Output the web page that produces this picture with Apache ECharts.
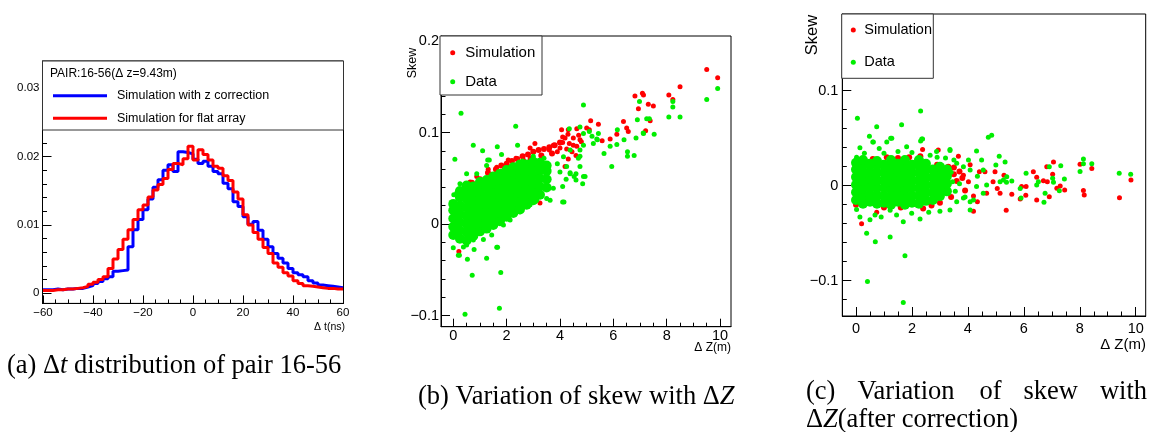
<!DOCTYPE html>
<html>
<head>
<meta charset="utf-8">
<script src="https://cdn.jsdelivr.net/npm/echarts@6.0.0/dist/echarts.min.js"></script>
<style>
  html, body { margin: 0; padding: 0; background: #fff; }
  #main { width: 1153px; height: 432px; }
</style>
</head>
<body>
<div id="main"></div>
<script>
var FONT = '"Liberation Sans", Arial, sans-serif';
var SERIF = '"Liberation Serif", "Times New Roman", serif';

// ---- panel (a): delta t histograms, 2 ns bins, left edges ----
var binEdges = [-60,-58,-56,-54,-52,-50,-48,-46,-44,-42,-40,-38,-36,-34,-32,-30,-28,-26,-24,-22,
  -20,-18,-16,-14,-12,-10,-8,-6,-4,-2,0,2,4,6,8,10,12,14,16,18,
  20,22,24,26,28,30,32,34,36,38,40,42,44,46,48,50,52,54,56,58];
var histEnd = 60;
var simZCorr = [0.0005,0.0005,0.0006,0.0005,0.0006,0.0006,0.0007,0.0007,0.0009,0.0011,
  0.0014,0.0017,0.0021,0.0024,0.0032,0.0033,0.0034,0.0068,0.0093,0.0108,
  0.0122,0.0138,0.0155,0.0166,0.0180,0.0188,0.0178,0.0207,0.0206,0.0204,
  0.0196,0.0190,0.0193,0.0186,0.0178,0.0175,0.0161,0.0153,0.0134,0.0127,
  0.0112,0.0101,0.0105,0.0092,0.0079,0.0068,0.0058,0.0051,0.0044,0.0036,
  0.0030,0.0027,0.0024,0.0018,0.0015,0.0012,0.0011,0.0010,0.0009,0.0008];
var simFlat = [0.0004,0.0004,0.0005,0.0005,0.0006,0.0006,0.0007,0.0008,0.0010,0.0013,
  0.0016,0.0020,0.0024,0.0036,0.0050,0.0064,0.0079,0.0093,0.0108,0.0122,
  0.0129,0.0141,0.0151,0.0159,0.0168,0.0181,0.0190,0.0188,0.0197,0.0215,
  0.0195,0.0210,0.0203,0.0195,0.0186,0.0183,0.0172,0.0165,0.0148,0.0138,
  0.0115,0.0100,0.0089,0.0079,0.0067,0.0058,0.0044,0.0038,0.0030,0.0025,
  0.0018,0.0014,0.0011,0.0010,0.0009,0.0008,0.0007,0.0007,0.0006,0.0006];

var aXMajor = [-60,-40,-20,0,20,40,60];
var aXMinor = [-60,-55,-50,-45,-40,-35,-30,-25,-20,-15,-10,-5,0,5,10,15,20,25,30,35,40,45,50,55,60];
var aYMajor = [0,0.01,0.02,0.03];
var aYMinor = [0,0.002,0.004,0.006,0.008,0.01,0.012,0.014,0.016,0.018,0.02,0.022,0.024,0.026,0.028,0.03,0.032];

// ---- panel (b): skew vs delta Z ----
// dense middle of the clouds
var simCoreB = [[0.0,-0.012],[0.0,0.005],[0.05,0.02],[0.7,0.045],[1.0,0.049],[1.3,0.056],[1.6,0.060],
  [1.8,0.064],[2.0,0.066],[2.2,0.069],[2.4,0.071],[2.6,0.074],[2.8,0.076],[3.0,0.079],[3.2,0.081],
  [3.4,0.082],[3.6,0.084],[3.8,0.086],[4.0,0.089],[3.3,0.075],[3.7,0.077],[2.9,0.071]];
var dataCoreB = [
  [0,-0.012],[0,-0.003],[0,0.006],[0,0.015],[0,0.022],
  [0.25,-0.016],[0.25,-0.007],[0.25,0.002],[0.25,0.011],[0.25,0.020],[0.25,0.029],[0.25,0.036],
  [0.5,-0.018],[0.5,-0.009],[0.5,0.0],[0.5,0.009],[0.5,0.018],[0.5,0.027],[0.5,0.036],[0.5,0.042],
  [0.75,-0.013],[0.75,-0.004],[0.75,0.005],[0.75,0.014],[0.75,0.023],[0.75,0.032],[0.75,0.041],
  [1.0,-0.008],[1.0,0.001],[1.0,0.010],[1.0,0.019],[1.0,0.028],[1.0,0.037],[1.0,0.046],
  [1.25,-0.005],[1.25,0.004],[1.25,0.013],[1.25,0.022],[1.25,0.031],[1.25,0.040],[1.25,0.048],
  [1.5,-0.001],[1.5,0.008],[1.5,0.017],[1.5,0.026],[1.5,0.035],[1.5,0.044],[1.5,0.052],
  [1.75,0.003],[1.75,0.012],[1.75,0.021],[1.75,0.030],[1.75,0.039],[1.75,0.048],[1.75,0.055],
  [2.0,0.008],[2.0,0.017],[2.0,0.026],[2.0,0.035],[2.0,0.044],[2.0,0.053],[2.0,0.059],
  [2.25,0.012],[2.25,0.021],[2.25,0.030],[2.25,0.039],[2.25,0.048],[2.25,0.057],[2.25,0.062],
  [2.5,0.016],[2.5,0.025],[2.5,0.034],[2.5,0.043],[2.5,0.052],[2.5,0.060],[2.5,0.065],
  [2.75,0.021],[2.75,0.030],[2.75,0.039],[2.75,0.048],[2.75,0.057],[2.75,0.065],
  [3.0,0.026],[3.0,0.035],[3.0,0.044],[3.0,0.053],[3.0,0.062],[3.0,0.068],
  [3.25,0.032],[3.25,0.041],[3.25,0.050],[3.25,0.059],[3.25,0.067],
  [3.5,0.040],[3.5,0.049],[3.5,0.058],[3.5,0.064]];
// single points
var simB = [[9.5,0.169],[9.91,0.16],[8.5,0.150],[8.08,0.141],[8.23,0.136],[6.81,0.140],[7.09,0.143],
  [7.13,0.141],[6.94,0.126],[7.31,0.131],[7.5,0.129],[7.38,0.113],[7.21,0.102],[6.5,0.105],[6.56,0.101],
  [6.38,0.112],[6.13,0.098],[5.88,0.093],[5.58,0.091],[5.44,0.109],[5.15,0.113],[5.0,0.105],[5.1,0.103],
  [4.63,0.104],[4.31,0.103],[4.06,0.103],[4.75,0.092],[4.63,0.085],[4.5,0.086],[4.19,0.094],[4.1,0.089],
  [3.75,0.086],[3.06,0.088],[2.88,0.083],[2.63,0.070],[2.35,0.072],[2.06,0.070],[1.63,0.062],[1.31,0.060],
  [0.88,0.052],[0.63,0.046],[0.48,0.042],[4.31,0.071],[4.19,0.063],[3.25,0.023],[0.21,-0.030],[-0.02,0.019],
  [4.1,0.095],[4.3,0.098],[4.5,0.094],[4.7,0.097],[4.45,0.079],[4.6,0.075],[4.25,0.082],[4.8,0.090],
  [4.35,0.088],[4.0,0.083],[3.9,0.079],[3.6,0.081]];
var dataB = [[0.29,0.121],[0.06,0.0707],[0.75,0.086],[1.1,0.080],[1.65,0.0845],[2.34,0.107],[2.41,0.086],
  [1.29,0.070],[4.88,0.130],[4.35,0.104],[4.75,0.106],[5.1,0.101],[5.44,0.099],[5.4,0.092],[5.25,0.088],
  [4.88,0.099],[4.75,0.081],[4.69,0.072],[4.88,0.052],[4.85,0.044],[4.75,0.063],[4.6,0.055],[4.38,0.055],
  [4.1,0.024],[3.63,0.026],[5.88,0.085],[5.65,0.077],[5.94,0.063],[6.13,0.087],[6.15,0.103],[6.4,0.092],
  [6.53,0.079],[6.53,0.074],[6.78,0.075],[6.85,0.094],[6.9,0.114],[6.98,0.134],[7.13,0.099],[7.25,0.115],
  [7.35,0.115],[7.53,0.098],[8.08,0.117],[8.23,0.128],[8.23,0.134],[8.5,0.117],[9.5,0.136],[9.91,0.148],
  [1.63,-0.0255],[1.25,-0.0375],[1.78,-0.053],[0.71,-0.056],[0.53,-0.0386],[0.23,-0.034],[1.73,-0.092],
  [0.44,-0.0987],[1.13,-0.0168],[0.78,-0.0277],
  [1.81,0.076],[1.35,0.070],[1.25,0.064],[0.88,0.055],[0.5,0.055],[0.25,0.044],[0.13,0.034],[3.9,0.066],
  [4.0,0.057],[4.25,0.063],[4.6,0.048],[4.94,0.052],[4.15,0.024],[3.75,0.039],[3.5,0.028],[3.13,0.026],
  [2.88,0.021],[2.5,0.0135],[2.13,0.0044],[1.88,-0.001],[1.44,-0.012],[0.75,-0.0175],[0.5,-0.023],
  [0.19,-0.034],[0.38,-0.025],[1.66,-0.0255],[0.0,-0.026],[0.02,0.032],[3.4,0.072],[3.0,0.074],[2.6,0.069],
  [5.2,0.096],[5.38,0.093],[4.88,0.086],[4.38,0.081],[4.13,0.0736],[4.75,0.074],[4.53,0.052],[4.23,0.049],
  [4.1,0.041],[4.38,0.056],[7.12,0.0995]];

var zXMajor = [0,2,4,6,8,10];
var zXMinor = [0,0.5,1,1.5,2,2.5,3,3.5,4,4.5,5,5.5,6,6.5,7,7.5,8,8.5,9,9.5,10];
var bYMajor = [-0.1,0,0.1,0.2];
var bYMinor = [-0.1,-0.08,-0.06,-0.04,-0.02,0,0.02,0.04,0.06,0.08,0.1,0.12,0.14,0.16,0.18,0.2];

// ---- panel (c): skew vs delta Z after correction ----
var simCoreC = [[3.0,0.012],[3.25,0.015],[3.5,0.012],[3.5,0.019],[3.7,0.015],[3.3,0.020],[2.9,0.022],
  [3.6,0.005],[3.4,-0.012],[3.0,-0.018],[2.7,-0.021],[2.3,0.031],[1.9,0.030],[1.5,0.029],[1.1,0.030],
  [0.6,0.028],[0.3,0.025],[0.0,-0.02],[0.1,0.026],[2.4,-0.024],[1.6,-0.023],[1.0,-0.023],[3.8,0.008],[3.9,-0.005]];
var dataCoreC = [
  [0,-0.015],[0,-0.007],[0,0.001],[0,0.009],[0,0.017],[0,0.024],
  [0.25,-0.019],[0.25,-0.011],[0.25,-0.003],[0.25,0.005],[0.25,0.013],[0.25,0.021],[0.25,0.027],
  [0.5,-0.017],[0.5,-0.009],[0.5,-0.001],[0.5,0.007],[0.5,0.015],[0.5,0.023],
  [0.75,-0.019],[0.75,-0.011],[0.75,-0.003],[0.75,0.005],[0.75,0.013],[0.75,0.021],[0.75,0.026],
  [1.0,-0.018],[1.0,-0.010],[1.0,-0.002],[1.0,0.006],[1.0,0.014],[1.0,0.022],
  [1.25,-0.020],[1.25,-0.012],[1.25,-0.004],[1.25,0.004],[1.25,0.012],[1.25,0.020],[1.25,0.027],
  [1.5,-0.017],[1.5,-0.009],[1.5,-0.001],[1.5,0.007],[1.5,0.015],[1.5,0.023],
  [1.75,-0.020],[1.75,-0.012],[1.75,-0.004],[1.75,0.004],[1.75,0.012],[1.75,0.020],[1.75,0.027],
  [2.0,-0.018],[2.0,-0.010],[2.0,-0.002],[2.0,0.006],[2.0,0.014],[2.0,0.022],
  [2.25,-0.019],[2.25,-0.011],[2.25,-0.003],[2.25,0.005],[2.25,0.013],[2.25,0.021],[2.25,0.027],
  [2.5,-0.016],[2.5,-0.008],[2.5,0.0],[2.5,0.008],[2.5,0.016],[2.5,0.023],
  [2.75,-0.015],[2.75,-0.007],[2.75,0.001],[2.75,0.009],[2.75,0.017],
  [3.0,-0.011],[3.0,-0.003],[3.0,0.005],[3.0,0.013],[3.0,0.020],
  [3.25,-0.006],[3.25,0.002],[3.25,0.010],[3.25,0.017]];
var simC = [[9.83,0.006],[9.42,-0.0126],[8.43,0.018],[8.01,0.0225],[8.13,-0.005],[8.16,-0.0098],
  [7.46,-0.0046],[7.3,-0.0004],[7.18,-0.0028],[7.06,0.025],[7.03,0.012],[6.82,0.020],[6.91,-0.0116],
  [6.46,0.0088],[6.46,-0.015],[6.34,0.0147],[6.7,0.0053],[6.84,0.004],[6.08,-0.001],[5.92,-0.001],
  [6.07,-0.01],[5.87,-0.014],[5.57,-0.009],[5.37,-0.026],[5.15,-0.008],[5.05,-0.003],[5.29,0.011],
  [4.97,0.0147],[4.9,0.004],[4.61,0.0147],[4.67,-0.008],[4.41,0.0147],[4.34,-0.017],[4.2,-0.027],
  [4.2,-0.011],[4.02,0.004],[4.08,0.022],[3.84,0.011],[3.66,0.031],[2.94,0.0375],[2.38,0.038],
  [0.74,-0.028],[0.2,-0.04]];
var dataC = [[0.05,0.0709],[2.31,0.0786],[0.74,0.062],[1.63,0.064],[0.48,0.052],[1.24,0.050],[4.73,0.051],
  [4.85,0.053],[2.38,0.049],[2.31,0.047],[0.14,0.040],[1.10,0.046],[0.6,0.046],[0.83,0.039],[1.81,0.041],
  [3.36,0.038],[4.02,0.027],[4.49,0.027],[4.31,0.0365],[5.12,0.031],[5.0,0.0218],[5.33,0.025],[5.39,0.0095],
  [5.57,0.005],[5.38,0.0035],[5.87,-0.003],[6.08,0.013],[5.9,-0.013],[6.52,0.0042],[6.46,0.0007],
  [6.91,0.020],[6.76,-0.008],[6.72,-0.0175],[7.03,0.0078],[7.06,0.0035],[7.27,-0.0053],[7.32,0.021],
  [7.45,0.007],[8.01,0.0148],[8.13,0.028],[8.13,0.023],[8.43,0.023],[9.41,0.013],[9.82,0.012],
  [0.38,-0.050],[0.69,-0.059],[1.22,-0.054],[1.75,-0.0737],[0.41,-0.101],[1.69,-0.123],[4.08,-0.0256],
  [4.2,-0.015],[3.84,-0.013],[3.36,-0.0256],[4.55,-0.008],[4.31,-0.001],[4.67,0.0007],[5.15,0.004],
  [5.27,0.006],[4.34,0.010],[4.55,0.0165],[4.08,0.0165],[3.84,0.020],[3.6,0.0235],
  [1.28,0.050],[0.62,0.046],[2.35,0.049],[2.65,0.032],[2.88,0.036],[3.36,0.037],[0.14,-0.033],
  [0.5,-0.036],[0.68,-0.031],[1.69,-0.038],[2.29,-0.035],[1.99,-0.029],[1.22,-0.026],[3.0,-0.027],
  [3.6,-0.017],[4.08,-0.017],[3.9,-0.012],[0.9,-0.033],[2.6,-0.028],[1.45,-0.031],[0.3,0.034],
  [1.0,0.034],[1.5,0.036],[2.0,0.035],[2.9,0.030],[3.2,0.029],[3.5,0.027],[0.02,0.03],[0.02,-0.025],
  [3.45,0.004],[3.55,-0.006],[3.7,0.002],[3.4,0.014]];

var cYMajor = [-0.1,0,0.1];
var cYMinor = [-0.12,-0.1,-0.08,-0.06,-0.04,-0.02,0,0.02,0.04,0.06,0.08,0.1,0.12,0.14,0.16,0.18];

var RED = '#ff0000', GREEN = '#00ee00', BLUE = '#0000ff';

function fmt(v) {
  return String(Number(v.toFixed(4))).replace('-', '\u2212');
}

// main axis (line, long ticks, labels) + overlay axis with short minor ticks
function axes(dim, grid, min, max, majors, minors, fontSize, margin, majLen, minLen) {
  var common = { type: 'value', gridIndex: grid, min: min, max: max,
    position: dim === 'x' ? 'bottom' : 'left', offset: 0, splitLine: { show: false } };
  return [
    Object.assign({}, common, {
      axisLine: { show: true, onZero: false, lineStyle: { color: '#000', width: 1 } },
      axisTick: { show: true, inside: true, length: majLen, customValues: majors, lineStyle: { color: '#000' } },
      axisLabel: { show: true, customValues: majors, margin: margin, formatter: fmt,
        fontFamily: FONT, fontSize: fontSize, color: '#000' }
    }),
    Object.assign({}, common, {
      axisLine: { show: false, onZero: false },
      axisTick: { show: true, inside: true, length: minLen, customValues: minors, lineStyle: { color: '#000' } },
      axisLabel: { show: false }
    })
  ];
}

function histData(vals) {
  var out = binEdges.map(function (e, i) { return [e, vals[i]]; });
  out.push([histEnd, vals[vals.length - 1]]);
  return out;
}

function scatter(name, color, data, size, axisIdx) {
  return { type: 'scatter', name: name, color: color, data: data, symbol: 'circle', symbolSize: size,
    xAxisIndex: axisIdx, yAxisIndex: axisIdx, itemStyle: { color: color, opacity: 1 }, silent: true };
}

function txt(x, y, text, size, opts) {
  return Object.assign({ type: 'text', x: x, y: y, z: 10,
    style: Object.assign({ text: text, fontFamily: FONT, fontSize: size, fill: '#000',
      align: 'left', verticalAlign: 'middle' }, (opts && opts.style) || {}) }, (opts && opts.el) || {});
}

function box(x, y, w, h) {
  return { type: 'rect', z: 3, shape: { x: x, y: y, width: w, height: h },
    style: { fill: '#fff', stroke: '#333', lineWidth: 1 } };
}

var chart = echarts.init(document.getElementById('main'), null, { renderer: 'canvas' });

var legendText = function (size, padLeft) {
  return { fontFamily: FONT, fontSize: size, lineHeight: 16, color: '#000', padding: [0, 0, 0, padLeft] };
};
var italic = { i: { fontStyle: 'italic', fontFamily: SERIF, fontSize: 26.5 } };

chart.setOption({
  animation: false,
  backgroundColor: '#fff',
  grid: [
    { left: 42.5, top: 61, width: 301, height: 242.4, show: true, borderColor: '#000', borderWidth: 1 },
    { left: 441, top: 36, width: 290, height: 290.7, show: true, borderColor: '#000', borderWidth: 1 },
    { left: 842.3, top: 14, width: 303.4, height: 302, show: true, borderColor: '#000', borderWidth: 1 }
  ],
  xAxis: [].concat(
    axes('x', 0, -60.2, 60.2, aXMajor, aXMinor, 11.5, 3, 8, 4),
    axes('x', 1, -0.46, 10.41, zXMajor, zXMinor, 14.5, 2, 8, 4),
    axes('x', 2, -0.49, 10.357, zXMajor, zXMinor, 14.5, 5, 9, 4.5)
  ),
  yAxis: [].concat(
    axes('y', 0, -0.0015, 0.034, aYMajor, aYMinor, 11.5, 3, 9, 4.5),
    axes('y', 1, -0.1122, 0.2055, bYMajor, bYMinor, 14.5, 2, 9, 4.5),
    axes('y', 2, -0.1372, 0.1807, cYMajor, cYMinor, 14.5, 4, 9, 4.5)
  ),
  legend: [
    { data: ['Simulation with z correction', 'Simulation for flat array'], left: 53, top: 87.7,
      orient: 'vertical', icon: 'rect', itemWidth: 54, itemHeight: 3, itemGap: 6.6, padding: 0,
      selectedMode: false, textStyle: legendText(12.5, 5) },
    { data: ['Simulation', 'Data'], left: 450.2, top: 44.7, orient: 'vertical', icon: 'circle',
      itemWidth: 5, itemHeight: 5, itemGap: 13, padding: 0, selectedMode: false, textStyle: legendText(15, 5) },
    { data: ['Simulation', 'Data'], left: 850.8, top: 22, orient: 'vertical', icon: 'circle',
      itemWidth: 5, itemHeight: 5, itemGap: 16.3, padding: 0, selectedMode: false, textStyle: legendText(14.5, 3.5) }
  ],
  series: [
    { type: 'line', name: 'Simulation with z correction', color: BLUE, step: 'end', showSymbol: false,
      xAxisIndex: 0, yAxisIndex: 0, lineStyle: { width: 3, color: BLUE }, data: histData(simZCorr), silent: true },
    { type: 'line', name: 'Simulation for flat array', color: RED, step: 'end', showSymbol: false,
      xAxisIndex: 0, yAxisIndex: 0, lineStyle: { width: 3, color: RED }, data: histData(simFlat), silent: true },
    scatter('Simulation', RED, simCoreB, 6, 2),
    scatter('Simulation', RED, simB, 5, 2),
    scatter('Data', GREEN, dataCoreB, 10, 2),
    scatter('Data', GREEN, dataB, 5, 2),
    scatter('Simulation', RED, simCoreC, 6, 4),
    scatter('Simulation', RED, simC, 5, 4),
    scatter('Data', GREEN, dataCoreC, 10, 4),
    scatter('Data', GREEN, dataC, 5, 4)
  ],
  graphic: [
    box(42.5, 61, 301, 69),
    box(440, 36, 102, 59),
    box(841.7, 14, 91.6, 64.3),
    txt(50, 73.3, 'PAIR:16-56(\u0394 z=9.43m)', 12),
    // axis titles
    txt(345, 327, '\u0394 t(ns)', 10.5, { style: { align: 'right' } }),
    txt(731, 348, '\u0394 Z(m)', 12, { style: { align: 'right' } }),
    txt(1146, 345, '\u0394 Z(m)', 15, { style: { align: 'right' } }),
    txt(412.5, 63, 'Skew', 12.5, { style: { align: 'center' }, el: { rotation: Math.PI / 2 } }),
    txt(812, 35, 'Skew', 16.5, { style: { align: 'center' }, el: { rotation: Math.PI / 2 } }),
    // captions
    txt(7, 366, '(a) \u0394{i|t} distribution of pair 16-56', 26.5, { style: { fontFamily: SERIF, rich: italic } }),
    txt(418, 397, '(b) Variation of skew with \u0394{i|Z}', 26.5, { style: { fontFamily: SERIF, rich: italic } }),
    txt(806, 392, '(c)', 26.5, { style: { fontFamily: SERIF } }),
    txt(857.4, 392, 'Variation', 26.5, { style: { fontFamily: SERIF } }),
    txt(979.4, 392, 'of', 26.5, { style: { fontFamily: SERIF } }),
    txt(1023.4, 392, 'skew', 26.5, { style: { fontFamily: SERIF } }),
    txt(1147, 392, 'with', 26.5, { style: { fontFamily: SERIF, align: 'right' } }),
    txt(806, 420, '\u0394{i|Z}(after correction)', 26.5, { style: { fontFamily: SERIF, rich: italic } })
  ]
});
</script>
</body>
</html>
